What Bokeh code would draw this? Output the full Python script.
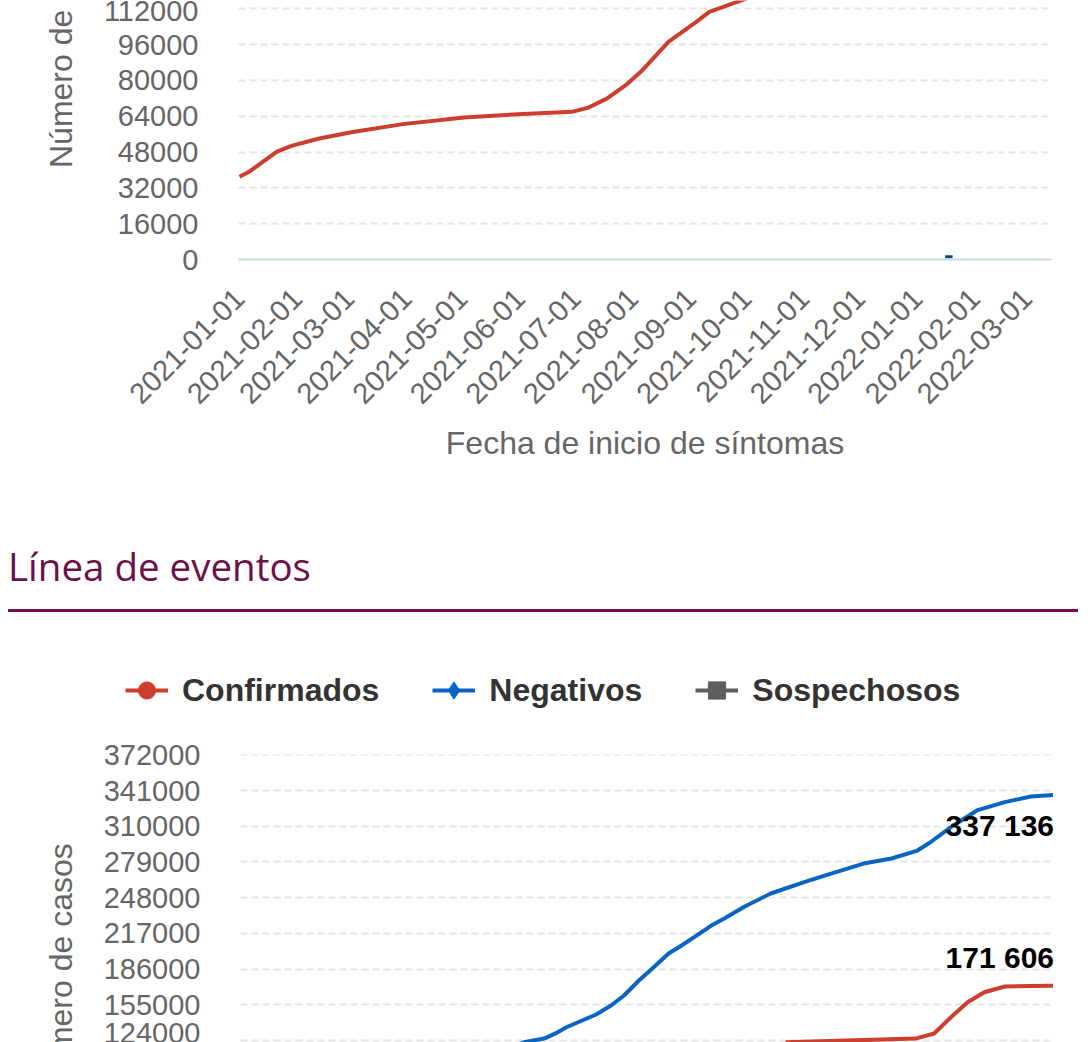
import datetime as dt
from math import pi

from bokeh.plotting import figure
from bokeh.models import (ColumnDataSource, FixedTicker, MonthsTicker, DatetimeTickFormatter,
                          NumeralTickFormatter, Legend, LegendItem, Div, Range1d)
from bokeh.layouts import column, row
from bokeh.embed import file_html
from bokeh.resources import INLINE
from bokeh.core.properties import value

# ---------------- data ----------------
# Chart 1: casos por fecha de inicio de síntomas (acumulado)
sintomas_fechas = ["2021-01-01", "2021-01-06", "2021-01-21", "2021-01-29", "2021-02-13",
                   "2021-03-03", "2021-03-30", "2021-05-02", "2021-05-31", "2021-06-29",
                   "2021-07-08", "2021-07-18", "2021-07-28", "2021-08-06", "2021-08-20",
                   "2021-09-04", "2021-09-11", "2021-09-29", "2021-10-10"]
sintomas_confirmados = [37000, 39100, 48100, 50800, 54100,
                        57000, 60500, 63500, 64900, 66000,
                        67900, 72000, 77900, 84600, 97300,
                        106200, 110700, 116000, 119000]
sintomas_sosp_fechas = ["2022-01-16", "2022-01-20"]
sintomas_sospechosos = [1250, 1250]
y1_ticks = [0, 16000, 32000, 48000, 64000, 80000, 96000, 112000]

# Chart 2: línea de eventos
eventos_neg_fechas = ["2021-05-25", "2021-06-02", "2021-06-13", "2021-06-20", "2021-06-25",
                      "2021-07-11", "2021-07-19", "2021-07-26", "2021-08-03", "2021-08-11",
                      "2021-08-19", "2021-08-26", "2021-09-03", "2021-09-11", "2021-09-18",
                      "2021-09-29", "2021-10-13", "2021-10-31", "2021-11-11", "2021-12-02",
                      "2021-12-17", "2021-12-31", "2022-01-07", "2022-01-18", "2022-02-01",
                      "2022-02-16", "2022-03-02", "2022-03-14"]
eventos_negativos = [117000, 122500, 125700, 130900, 135500,
                     146600, 154400, 163100, 176100, 187600,
                     199500, 206500, 215100, 223800, 229900,
                     240300, 251600, 261400, 267200, 277600,
                     282000, 288900, 296100, 309200, 323700,
                     330900, 335800, 337136]
eventos_conf_fechas = ["2021-10-21", "2021-12-30", "2022-01-09", "2022-01-18", "2022-01-27",
                       "2022-02-05", "2022-02-16", "2022-03-02", "2022-03-14"]
eventos_confirmados = [122500, 125700, 130100, 144200, 157200,
                       165900, 170900, 171400, 171606]
eventos_sosp_fechas = ["2022-01-16", "2022-01-20"]
eventos_sospechosos = [1250, 1250]
y2_ticks = [124000, 155000, 186000, 217000, 248000, 279000, 310000, 341000, 372000]

series_nombres = ["Confirmados", "Negativos", "Sospechosos"]

# ---------------- style ----------------
RED = "#cc3e2e"
BLUE = "#0b64c3"
GRAY = "#5e5e5e"
DARK = "#0d4a6b"
MAROON = "#6c1149"
FONT = "Liberation Sans"


def d(s):
    return dt.datetime.strptime(s, "%Y-%m-%d")


X_START = dt.datetime(2020, 12, 31, 12)
X_END = dt.datetime(2022, 3, 14, 6)


def style_y(p, ticks):
    p.yaxis.ticker = FixedTicker(ticks=ticks)
    p.yaxis.formatter = NumeralTickFormatter(format="0")
    p.yaxis.axis_line_color = None
    p.yaxis.major_tick_line_color = None
    p.yaxis.minor_tick_line_color = None
    p.yaxis.major_tick_out = 0
    p.yaxis.major_tick_in = 0
    p.yaxis.major_label_standoff = 40
    p.yaxis.major_label_text_font = FONT
    p.yaxis.major_label_text_font_size = "29px"
    p.yaxis.major_label_text_color = "#666666"
    p.ygrid.ticker = FixedTicker(ticks=ticks)
    p.ygrid.grid_line_color = "#e6e6e6"
    p.ygrid.grid_line_width = 2
    p.ygrid.grid_line_dash = "7 4"
    p.xgrid.visible = False
    p.outline_line_color = None
    p.background_fill_color = "white"
    p.border_fill_color = "white"


def y_title(height, top):
    return Div(width=100, height=height, margin=0, text=(
        '<div style="position:relative;width:100px;height:%dpx;overflow:hidden;">'
        '<div style="position:absolute;left:43px;top:%spx;transform:rotate(-90deg);'
        'transform-origin:0 0;font-family:\'Liberation Sans\';font-size:32px;'
        'line-height:36px;color:#666666;white-space:nowrap;">Número de casos</div></div>'
        % (height, top)))


# ---------------- chart 1 ----------------
p1 = figure(output_backend="svg", toolbar_location=None, x_axis_type="datetime",
            frame_width=813, frame_height=259, width=978, height=496,
            min_border_left=137, min_border_right=28, min_border_top=0, min_border_bottom=237,
            x_range=Range1d(X_START, X_END), y_range=Range1d(0, 115754))
style_y(p1, y1_ticks)
p1.xaxis.ticker = MonthsTicker(months=list(range(1, 13)))
p1.xaxis.formatter = DatetimeTickFormatter(days="%Y-%m-%d", months="%Y-%m-%d", years="%Y-%m-%d")
p1.xaxis.major_label_orientation = pi / 4
p1.xaxis.major_label_text_font = FONT
p1.xaxis.major_label_text_font_size = "29px"
p1.xaxis.major_label_text_color = "#666666"
p1.xaxis.major_tick_line_color = None
p1.xaxis.minor_tick_line_color = None
p1.xaxis.major_tick_out = 0
p1.xaxis.major_tick_in = 0
p1.xaxis.major_label_standoff = 34
p1.xaxis.axis_line_color = "#ccd6eb"
p1.xaxis.axis_line_width = 2
p1.xaxis.axis_label = "Fecha de inicio de síntomas"
p1.xaxis.axis_label_text_font = FONT
p1.xaxis.axis_label_text_font_size = "32px"
p1.xaxis.axis_label_text_font_style = "normal"
p1.xaxis.axis_label_text_color = "#666666"
p1.xaxis.axis_label_standoff = 9

src1 = ColumnDataSource(dict(x=[d(s) for s in sintomas_fechas], y=sintomas_confirmados))
p1.line("x", "y", source=src1, line_color=RED, line_width=4)
src1b = ColumnDataSource(dict(x=[d(s) for s in sintomas_sosp_fechas], y=sintomas_sospechosos))
p1.line("x", "y", source=src1b, line_color=DARK, line_width=3)

# ---------------- heading ----------------
heading = Div(
    margin=0, width=1078, height=126,
    text=('<div style="position:relative;width:1078px;height:126px;">'
          '<div style="position:absolute;left:8px;top:44px;font-family:\'Open Sans\';'
          'font-size:38.5px;line-height:53px;color:' + MAROON + ';white-space:nowrap;">'
          'Línea de eventos</div>'
          '<div style="position:absolute;left:8px;top:113px;width:1070px;height:3px;'
          'background:' + MAROON + ';"></div></div>'))

# ---------------- chart 2 data sources ----------------
src_neg = ColumnDataSource(dict(x=[d(s) for s in eventos_neg_fechas], y=eventos_negativos))
src_conf = ColumnDataSource(dict(x=[d(s) for s in eventos_conf_fechas], y=eventos_confirmados))
src_sosp = ColumnDataSource(dict(x=[d(s) for s in eventos_sosp_fechas], y=eventos_sospechosos))

# ---------------- legend strip (series drawn outside its visible range) ----------------
pl = figure(output_backend="svg", toolbar_location=None, x_axis_type="datetime",
            x_axis_location=None, y_axis_location=None,
            frame_width=1078, frame_height=112, width=1078, height=112,
            min_border_left=0, min_border_right=0, min_border_top=0, min_border_bottom=0,
            x_range=Range1d(X_START, X_END), y_range=Range1d(-20, -10))
pl.xgrid.visible = False
pl.ygrid.visible = False
pl.outline_line_color = None
items = []
for nombre, src, col, mk in ((series_nombres[0], src_conf, RED, "circle"),
                             (series_nombres[1], src_neg, BLUE, "diamond"),
                             (series_nombres[2], src_sosp, GRAY, "square")):
    rl = pl.line("x", "y", source=src, line_color=col, line_width=4)
    rm = pl.scatter("x", "y", source=src, marker=mk, size=17, fill_color=col, line_color=col)
    items.append(LegendItem(label=nombre, renderers=[rl, rm]))
legend = Legend(items=items, location=(125, 22), orientation="horizontal",
                glyph_width=43, glyph_height=44, label_standoff=14, spacing=53,
                padding=0, margin=0, border_line_color=None, background_fill_alpha=0,
                label_text_font=FONT, label_text_font_style="bold",
                label_text_font_size="32px", label_text_color="#333333")
pl.add_layout(legend)

# ---------------- chart 2 ----------------
p2 = figure(output_backend="svg", toolbar_location=None, x_axis_type="datetime",
            x_axis_location=None,
            frame_width=813, frame_height=288, width=978, height=308,
            min_border_left=137, min_border_right=28, min_border_top=20, min_border_bottom=0,
            x_range=Range1d(X_START, X_END), y_range=Range1d(122282, 372260))
style_y(p2, y2_ticks)

p2.line("x", "y", source=src_sosp, line_color=GRAY, line_width=4)
p2.line("x", "y", source=src_conf, line_color=RED, line_width=4)
p2.line("x", "y", source=src_neg, line_color=BLUE, line_width=4)


def fmt(v):
    return f"{v:,}".replace(",", " ")


lab_neg = ColumnDataSource(dict(x=[d(eventos_neg_fechas[-1])], y=[eventos_negativos[-1]],
                                t=[fmt(eventos_negativos[-1])]))
lab_conf = ColumnDataSource(dict(x=[d(eventos_conf_fechas[-1])], y=[eventos_confirmados[-1]],
                                 t=[fmt(eventos_confirmados[-1])]))
for srcl, off in ((lab_neg, 31), (lab_conf, -28)):
    p2.text("x", "y", text="t", source=srcl, text_font=value(FONT), text_font_style="bold",
            text_font_size="30px", text_color="black", text_align="right",
            text_baseline="middle", x_offset=1, y_offset=off)

layout = column(row(y_title(496, 167.5), p1, spacing=0),
                heading,
                pl,
                row(y_title(308, 359.5), p2, spacing=0),
                spacing=0)
open("out.html", "w").write(file_html(layout, INLINE))
